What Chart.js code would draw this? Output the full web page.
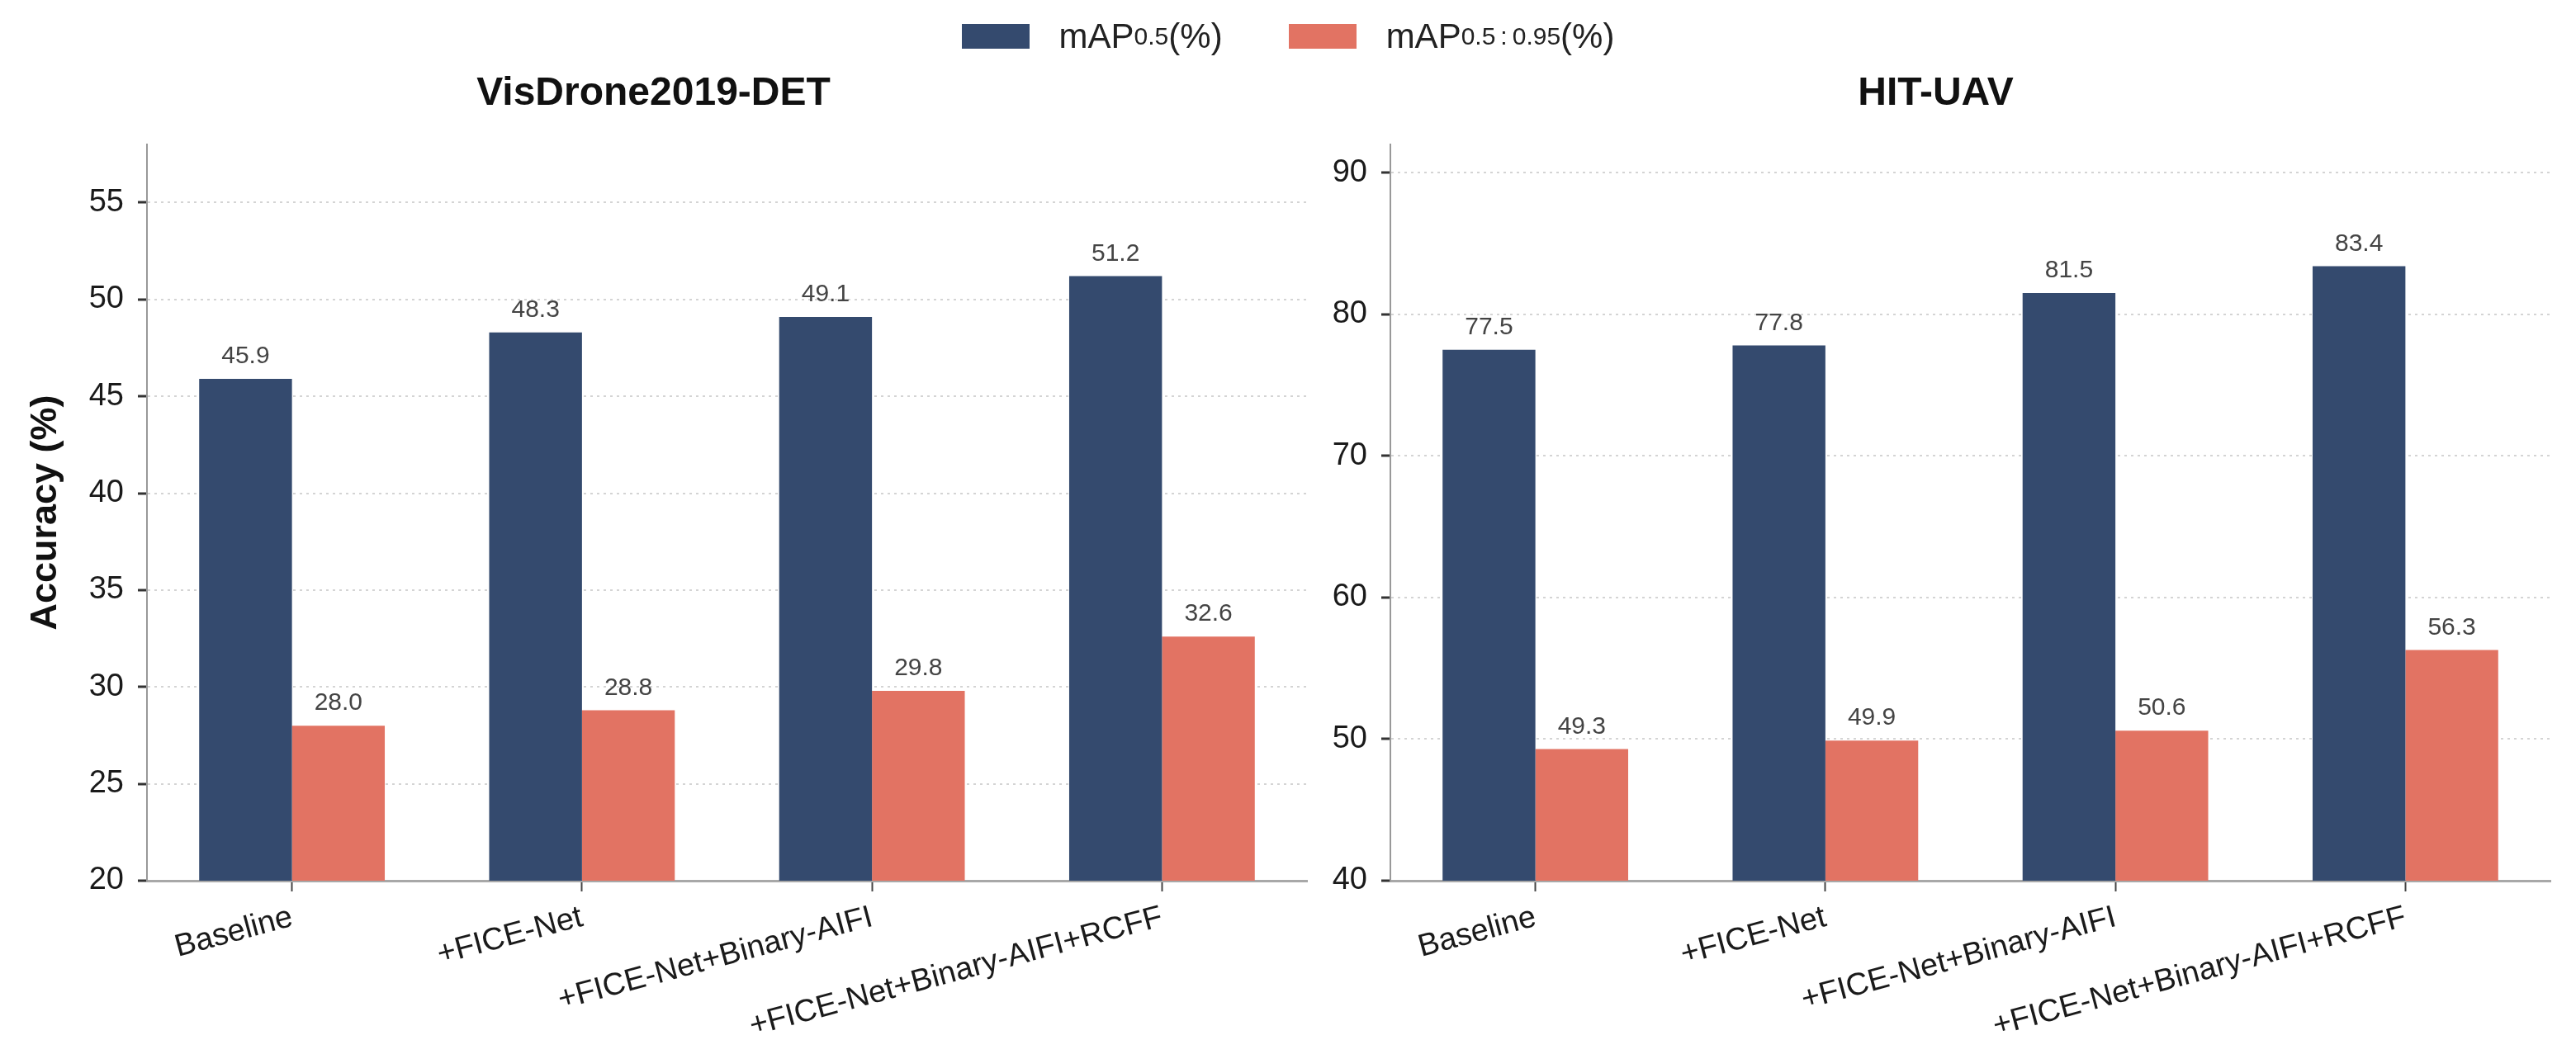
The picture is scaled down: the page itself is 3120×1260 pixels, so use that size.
<!DOCTYPE html>
<html>
<head>
<meta charset="utf-8">
<script src="https://cdn.jsdelivr.net/npm/chart.js@4.4.1/dist/chart.umd.min.js"></script>
<style>
  html, body { margin:0; padding:0; background:#fff; }
  #wrap { position:relative; width:3120px; height:1260px; overflow:hidden; font-family:"Liberation Sans", Arial, sans-serif; }
  canvas { position:absolute; top:0; }
  #legend { position:absolute; top:20px; left:0; width:3120px; display:flex; justify-content:center; }
  .item { display:flex; align-items:center; font-size:42px; color:#222; margin:0 40px; }
  .sw { width:82px; height:30px; margin-right:36px; }
  sub { font-size:30px; vertical-align:-12px; }
</style>
</head>
<body>
<div id="wrap">
  <canvas id="left" width="1600" height="1260" style="left:0"></canvas>
  <canvas id="right" width="1520" height="1260" style="left:1600px"></canvas>
  <div id="legend">
    <div class="item"><span class="sw" style="background:#344a6e"></span>mAP<sub>0.5</sub>(%)</div>
    <div class="item"><span class="sw" style="background:#e27363"></span>mAP<sub>0.5&thinsp;:&thinsp;0.95</sub>(%)</div>
  </div>
</div>
<script>
// data
const methods = ['Baseline', '+FICE-Net', '+FICE-Net+Binary-AIFI', '+FICE-Net+Binary-AIFI+RCFF'];
const visMap50 = [45.9, 48.3, 49.1, 51.2];
const visMap5095 = [28.0, 28.8, 29.8, 32.6];
const hitMap50 = [77.5, 77.8, 81.5, 83.4];
const hitMap5095 = [49.3, 49.9, 50.6, 56.3];

const BLUE = '#344a6e', RED = '#e27363';
const FONT = '"Liberation Sans", Arial, sans-serif';

// numbers on top of bars
const barValues = {
  id: 'barValues',
  afterDatasetsDraw(chart){
    const ctx = chart.ctx;
    ctx.save();
    ctx.font = '30px ' + FONT;
    ctx.fillStyle = '#444';
    ctx.textAlign = 'center';
    ctx.textBaseline = 'bottom';
    chart.data.datasets.forEach((ds, i) => {
      chart.getDatasetMeta(i).data.forEach((bar, j) => {
        ctx.fillText(ds.data[j].toFixed(1), bar.x, bar.y - 12);
      });
    });
    ctx.restore();
  }
};

function makeChart(id, title, a, b, ymin, ymax, step, yWidth, padRight, yTitle){
  return new Chart(document.getElementById(id).getContext('2d'), {
    type: 'bar',
    data: {
      labels: methods,
      datasets: [
        {label: 'mAP0.5(%)', data: a, backgroundColor: BLUE, categoryPercentage: 0.64, barPercentage: 1},
        {label: 'mAP0.5:0.95(%)', data: b, backgroundColor: RED, categoryPercentage: 0.64, barPercentage: 1}
      ]
    },
    options: {
      responsive: false,
      devicePixelRatio: 1,
      animation: false,
      layout: {padding: {top: 85, right: padRight, bottom: 0, left: 0}},
      plugins: {
        legend: {display: false},
        tooltip: {enabled: false},
        title: {display: true, text: title, color: '#111', font: {family: FONT, size: 48, weight: 'bold'}, padding: {top: 0, bottom: 32.4}}
      },
      scales: {
        x: {
          grid: {drawOnChartArea: false, offset: false, tickLength: 13, tickColor: '#444', tickWidth: 2},
          border: {color: '#a8a8a8', width: 3},
          ticks: {minRotation: 15, maxRotation: 15, autoSkip: false, color: '#1a1a1a', padding: 9, font: {family: FONT, size: 38}},
          afterFit(s){ s.height = 193; }
        },
        y: {
          min: ymin, max: ymax, z: 1,
          grid: {color: '#d4d4d4', lineWidth: 2, tickLength: 11, tickColor: '#333', tickWidth: 3, tickBorderDash: []},
          border: {color: '#999', width: 2, dash: [3, 5]},
          ticks: {stepSize: step, includeBounds: false, color: '#1a1a1a', padding: 17, font: {family: FONT, size: 38}},
          title: {display: !!yTitle, text: yTitle || '', color: '#111', font: {family: FONT, size: 45, weight: 'bold'}, padding: {top: 29, bottom: 0}},
          afterFit(s){ s.width = yWidth; }
        }
      }
    },
    plugins: [barValues]
  });
}

makeChart('left', 'VisDrone2019-DET', visMap50, visMap5095, 20, 58, 5, 178, 17, 'Accuracy (%)');
makeChart('right', 'HIT-UAV', hitMap50, hitMap5095, 40, 92, 10, 84, 31, '');
</script>
</body>
</html>
